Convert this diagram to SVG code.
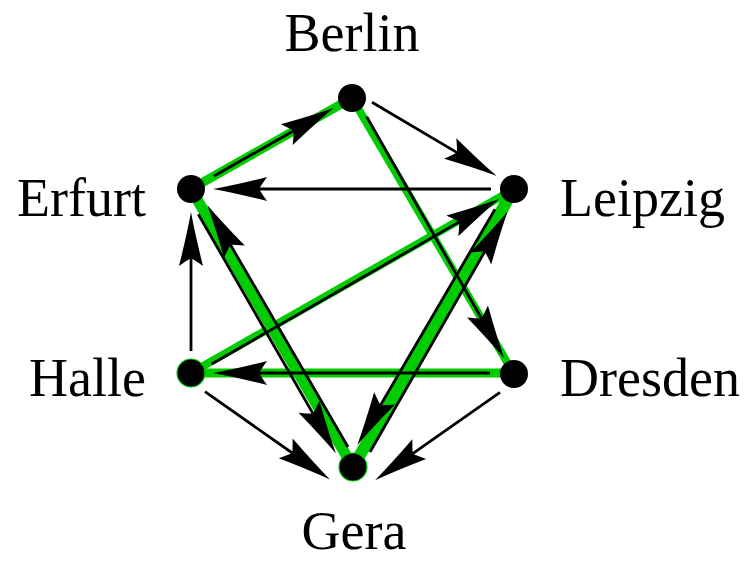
<svg xmlns="http://www.w3.org/2000/svg" width="746" height="561" viewBox="0 0 746 561">
<style>
.lbl{font-family:"Liberation Serif","Times New Roman",serif;font-size:54px;fill:#000}
.g{stroke:#00cc00;fill:none;stroke-linecap:butt}
.e{stroke:#000;stroke-width:2.8;fill:none;marker-end:url(#ah)}
.n{fill:#000}
.ng{fill:#000;stroke:#00cc00;stroke-width:1.2}
</style>
<defs>
<marker id="ah" markerUnits="userSpaceOnUse" viewBox="-10 -13 58 26" markerWidth="58" markerHeight="26" refX="0" refY="0" orient="auto" overflow="visible">
<path d="M46,0 Q24,-4 -8,-12 Q-3,-5 0,0 Q-3,5 -8,12 Q24,4 46,0 Z" fill="#000"/>
</marker>
</defs>
<g id="highlights">
<line class="g" x1="191" y1="189" x2="352" y2="98" stroke-width="9"/>
<line class="g" x1="352" y1="98" x2="514" y2="374" stroke-width="8"/>
<line class="g" x1="191" y1="373" x2="514" y2="189" stroke-width="8"/>
<line class="g" x1="514" y1="373" x2="191" y2="373" stroke-width="9"/>
<line class="g" x1="191" y1="189" x2="353" y2="467" stroke-width="11"/>
<line class="g" x1="353" y1="467" x2="514" y2="189" stroke-width="12"/>
</g>
<g id="connectors">
<line class="e" x1="214" y1="176" x2="293.7" y2="130.7"/>
<line class="e" x1="372" y1="102.3" x2="457.1" y2="152.6"/>
<line class="e" x1="491" y1="189" x2="259" y2="189"/>
<line class="e" x1="366.7" y1="116.7" x2="481.5" y2="318.5"/>
<line class="e" x1="211.7" y1="364" x2="459.3" y2="221.9"/>
<line class="e" x1="490" y1="373" x2="259" y2="373"/>
<line class="e" x1="191" y1="351" x2="191" y2="258"/>
<line class="e" x1="205" y1="391.7" x2="292.3" y2="453"/>
<line class="e" x1="500" y1="392.3" x2="412.7" y2="453.7"/>
<line class="e" x1="198.3" y1="214.3" x2="313" y2="413.6"/>
<line class="e" x1="348" y1="447" x2="230.4" y2="244.7"/>
<line class="e" x1="495" y1="209.3" x2="380.5" y2="405.3"/>
<line class="e" x1="370" y1="452" x2="484.8" y2="251.5"/>
</g>
<g id="berlin"><circle class="n" cx="352" cy="98" r="14"/><text class="lbl" x="352" y="51" text-anchor="middle">Berlin</text></g>
<g id="leipzig"><circle class="n" cx="514" cy="189" r="14"/><text class="lbl" x="560" y="216">Leipzig</text></g>
<g id="dresden"><circle class="n" cx="514" cy="374" r="14"/><text class="lbl" x="560" y="396">Dresden</text></g>
<g id="gera"><circle class="ng" cx="353" cy="467" r="14"/><text class="lbl" x="354" y="549" text-anchor="middle">Gera</text></g>
<g id="halle"><circle class="ng" cx="191" cy="373" r="14"/><text class="lbl" x="146" y="396" text-anchor="end">Halle</text></g>
<g id="erfurt"><circle class="n" cx="191" cy="189" r="14"/><text class="lbl" x="146" y="216" text-anchor="end">Erfurt</text></g>
</svg>
